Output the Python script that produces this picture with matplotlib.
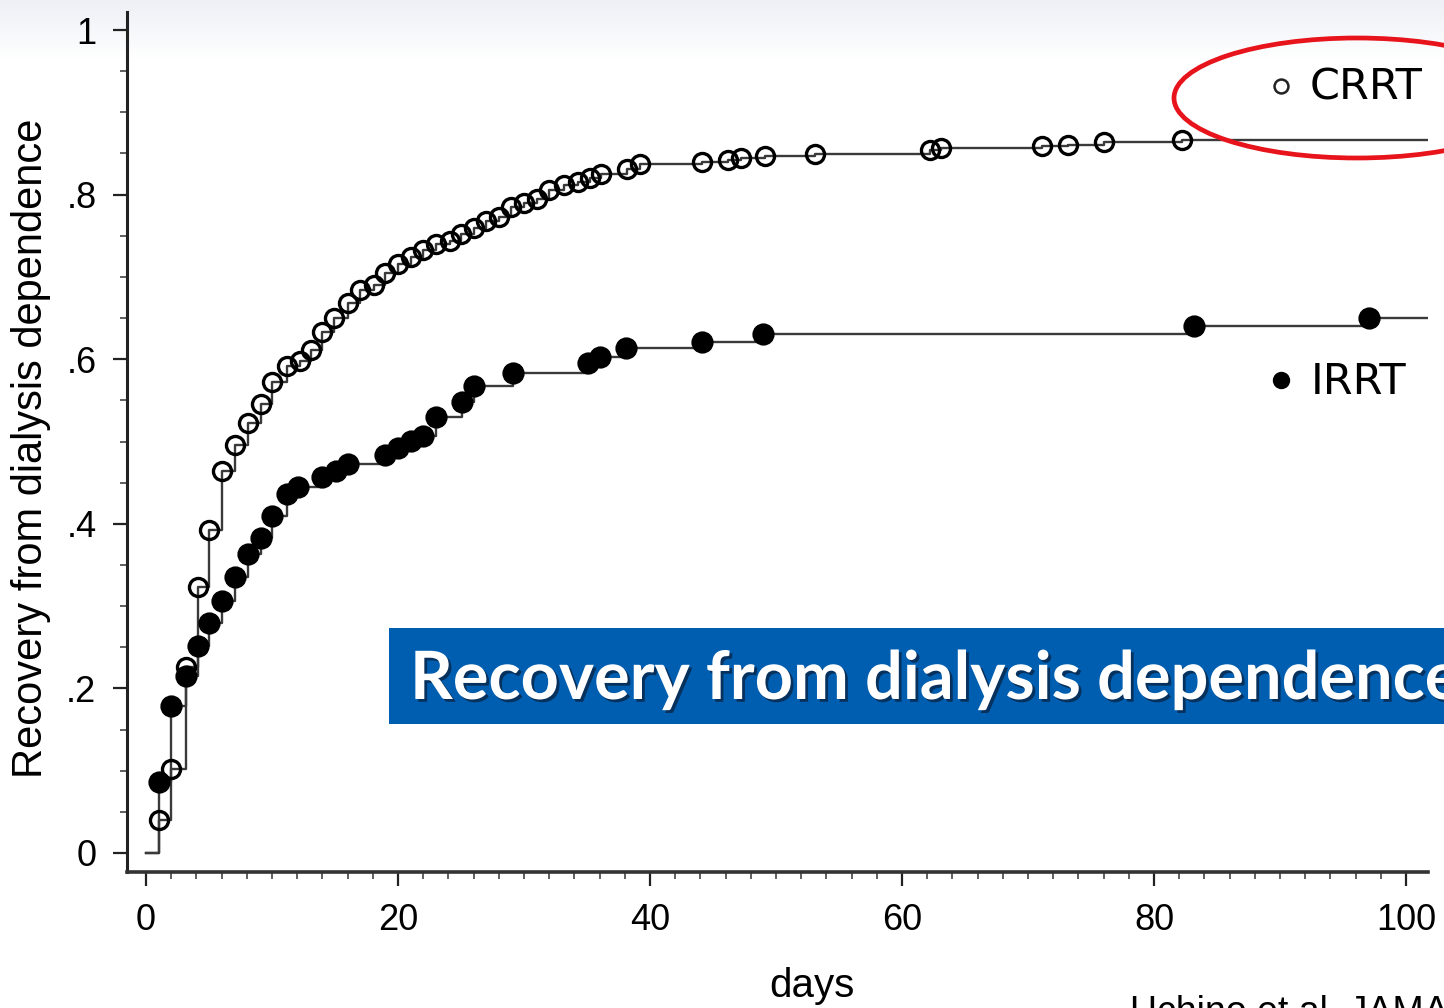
import matplotlib
matplotlib.use("Agg")
import matplotlib.pyplot as plt
import matplotlib.patheffects as pe
from matplotlib.patches import Ellipse, Rectangle
from matplotlib.ticker import MultipleLocator, FixedLocator
import numpy as np

# cumulative recovery (Kaplan-Meier failure), one entry per step
crrt_days = [1, 2, 3.2, 4.1, 5, 6, 7.1, 8.1, 9.1, 10, 11.2, 12.2, 13.1, 14, 14.9,
             16, 17, 18.1, 19, 20, 21, 22, 23, 24.1, 25, 26, 27, 28, 29, 30, 31,
             32, 33.2, 34.3, 35.2, 36.1, 38.2, 39.2, 44.1, 46.2, 47.2, 49.1, 53.1,
             62.2, 63.1, 71.1, 73.2, 76, 82.2]
crrt_recov = [0.040, 0.102, 0.226, 0.323, 0.392, 0.464, 0.496, 0.522, 0.546, 0.572,
              0.592, 0.598, 0.611, 0.633, 0.650, 0.668, 0.684, 0.690, 0.705, 0.716,
              0.724, 0.733, 0.740, 0.744, 0.752, 0.759, 0.768, 0.773, 0.785, 0.790,
              0.795, 0.806, 0.812, 0.815, 0.820, 0.825, 0.831, 0.837, 0.840, 0.842,
              0.844, 0.847, 0.849, 0.854, 0.857, 0.859, 0.860, 0.864, 0.866]

irrt_days = [1, 2, 3.2, 4.1, 5, 6, 7.1, 8.1, 9.1, 10, 11.2, 12.1, 14, 15.1, 16,
             19, 20, 21, 22, 23, 25.1, 26, 29.1, 35.1, 36, 38.1, 44.1, 49, 83.2, 97.1]
irrt_recov = [0.086, 0.179, 0.215, 0.252, 0.279, 0.306, 0.335, 0.363, 0.383, 0.409,
              0.436, 0.445, 0.457, 0.464, 0.473, 0.484, 0.492, 0.501, 0.507, 0.530,
              0.548, 0.567, 0.583, 0.595, 0.603, 0.614, 0.621, 0.631, 0.640, 0.650]

follow_up_end = 101.7
x_ticks = [0, 20, 40, 60, 80, 100]
y_ticks = [0, 0.2, 0.4, 0.6, 0.8, 1.0]
y_tick_labels = ["0", ".2", ".4", ".6", ".8", "1"]

W, H = 1444, 1008
fig = plt.figure(figsize=(W / 100, H / 100), dpi=100)

# slide background: faint grey band fading out at the top
bg = fig.add_axes([0, 0, 1, 1], zorder=-10)
grad = np.ones((H, 1, 3))
fade = np.clip(1 - np.arange(H) / 60.0, 0, 1)[:, None]
top = np.array([238, 240, 246]) / 255.0
grad[:, 0, :] = 1 - fade * (1 - top)
bg.imshow(grad, aspect="auto", extent=[0, 1, 0, 1], origin="upper")
bg.axis("off")

ax = fig.add_axes([127 / W, (H - 872) / H, (1428 - 127) / W, (872 - 12) / H])
ax.patch.set_alpha(0)


def km_steps(days, vals, end):
    xs = [0] + list(days) + [end]
    ys = [0] + list(vals) + [vals[-1]]
    return xs, ys


for days, vals, face, ms, mew in [(crrt_days, crrt_recov, "none", 13, 2.4),
                                  (irrt_days, irrt_recov, "black", 14, 2.0)]:
    xs, ys = km_steps(days, vals, follow_up_end)
    ax.plot(xs, ys, drawstyle="steps-post", color="#3a3a3a", lw=1.7, zorder=2)
    ax.plot(days, vals, "o", ms=ms, mfc=face, mec="black", mew=mew,
            zorder=3, clip_on=False)

ax.set_xlim(-1.508, follow_up_end + 0.05)
ax.set_ylim(-0.0231, 1.0219)
ax.xaxis.set_major_locator(FixedLocator(x_ticks))
ax.xaxis.set_minor_locator(MultipleLocator(2))
ax.yaxis.set_major_locator(FixedLocator(y_ticks))
ax.yaxis.set_minor_locator(MultipleLocator(0.05))
ax.set_yticklabels(y_tick_labels)

for side in ["top", "right"]:
    ax.spines[side].set_visible(False)
ax.spines["left"].set_linewidth(2.2)
ax.spines["bottom"].set_linewidth(2.6)
ax.spines["left"].set_color("#222222")
ax.spines["bottom"].set_color("#333333")

ax.tick_params(which="major", length=10, width=1.6, color="#222222")
ax.tick_params(which="minor", length=5, width=1.2, color="#444444")
ax.tick_params(axis="y", which="major", pad=12)
ax.tick_params(axis="x", which="major", pad=12)
for lab in ax.get_xticklabels() + ax.get_yticklabels():
    lab.set_fontfamily("Liberation Sans")
    lab.set_fontsize(26)

fig.text(31 / W, 1 - 448 / H, "Recovery from dialysis dependence", rotation=90,
         ha="center", va="center", fontsize=30, family="Liberation Sans")
fig.text(812 / W, 1 - 986 / H, "days", ha="center", va="center",
         fontsize=29, family="Liberation Sans")

# legend keys
fig.add_artist(plt.Line2D([1281 / W], [1 - 86 / H], marker="o", ms=10, mfc="none",
                          mec="#222222", mew=1.8, transform=fig.transFigure))
fig.add_artist(plt.Line2D([1281 / W], [1 - 380 / H], marker="o", ms=11.5, mfc="black",
                          mec="black", transform=fig.transFigure))
fig.text(1310 / W, 1 - 88 / H, "CRRT", ha="left", va="center", fontsize=31,
         family="DejaVu Sans")
fig.text(1311 / W, 1 - 382 / H, "IRRT", ha="left", va="center", fontsize=31,
         family="DejaVu Sans")

# red highlight around the CRRT key
fig.add_artist(Ellipse((1357 / W, 1 - 98 / H), 366 / W, 120 / H, fill=False,
                       ec="#e8141c", lw=3.4, transform=fig.transFigure))

# blue caption banner
fig.add_artist(Rectangle((389 / W, 1 - 724 / H), (W - 389) / W, 96 / H,
                         fc="#005EB0", ec="none", transform=fig.transFigure))
fig.text(410 / W, 1 - 680 / H, "Recovery from dialysis dependence", ha="left",
         va="center", color="white", fontsize=48, weight="bold", family="Lato",
         path_effects=[pe.withSimplePatchShadow(offset=(2, -2), shadow_rgbFace="#0a1e3a",
                                                alpha=0.7)])

# citation, running off the bottom edge
fig.text(1130 / W, 1 - 995 / H, "Uchino et al. JAMA", ha="left", va="top",
         fontsize=27, family="Liberation Sans")

fig.savefig("out.png", dpi=100)
